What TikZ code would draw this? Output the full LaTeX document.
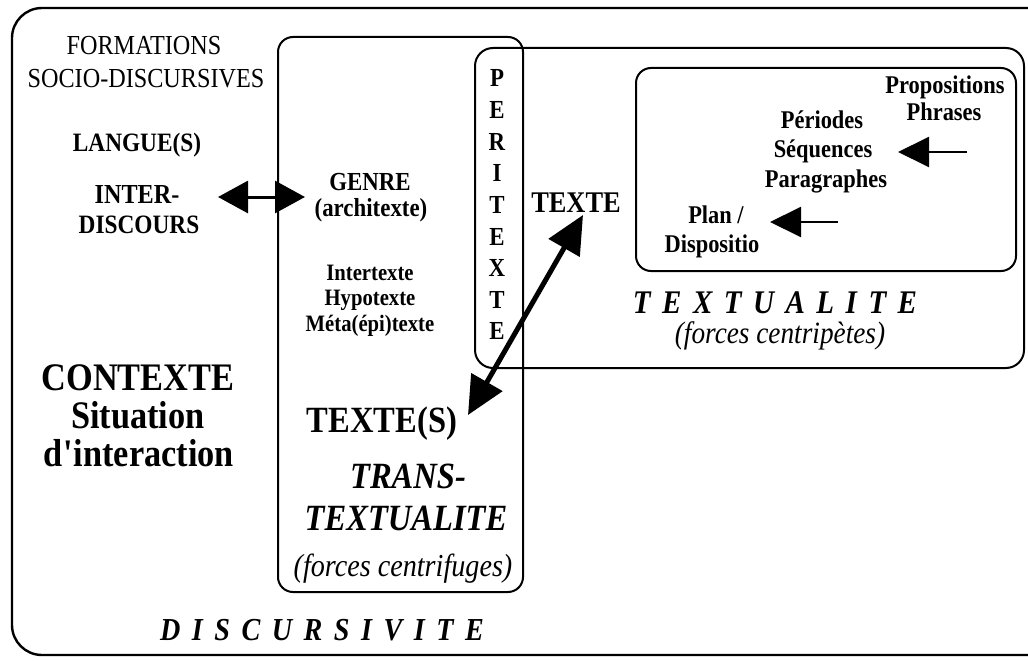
\documentclass[tikz,border=0pt]{standalone}
\usepackage{fontspec}
\setmainfont{Liberation Serif}[FakeStretch=0.88]
\usetikzlibrary{arrows.meta}
\newcommand\fs[1]{\fontsize{#1}{#1}\selectfont}
\newcommand\gp{\kern11.5pt}
\tikzset{
  lbl/.style={inner sep=0pt, anchor=base},
  frm/.style={line width=2pt, rounded corners=#1},
  dblarr/.style={line width=3pt, {Triangle[length=30pt,width=32pt]}-{Triangle[length=30pt,width=32pt]}},
  bigarr/.style={line width=5pt, {Triangle[length=38pt,width=35pt]}-{Triangle[length=38pt,width=35pt]}},
  smallarr/.style={line width=2pt, -{Triangle[length=31pt,width=30pt]}},
}
\begin{document}
\begin{tikzpicture}[x=1pt,y=-1pt]
			%%%%% FRAMES %%%%%
			\useasboundingbox (0,0) rectangle (1028,661);
			\draw[frm=30pt, line width=2.4pt] (12,8) rectangle (1060,655);
			\draw[frm=15pt] (278,37) rectangle (523,592);
			\draw[frm=18pt] (475,48) rectangle (1024,368);
			\draw[frm=15pt] (636,68) rectangle (1016,271);
			
			%%%%% DISCURSIVITE %%%%%
			\node[lbl, font=\fs{27.5}] (formations) at (144,55) {FORMATIONS};
			\node[lbl, font=\fs{27.5}] (sociodisc) at (146,88) {SOCIO-DISCURSIVES};
			\node[lbl, font=\fs{26.5}\bfseries] (langues) at (137,151) {LANGUE(S)};
			\node[lbl, font=\fs{27.5}\bfseries] (inter) at (137,203) {INTER-};
			\node[lbl, font=\fs{26.5}\bfseries] (discours) at (139,233) {DISCOURS};
			\node[lbl, font=\fs{39}\bfseries] (contexte) at (138,390) {CONTEXTE};
			\node[lbl, font=\fs{39}\bfseries] (situation) at (138,428) {Situation};
			\node[lbl, font=\fs{39}\bfseries] (interaction) at (139,466) {d\textquotesingle interaction};
			\node[lbl, font=\fs{32}\bfseries\itshape] (discursivite) at (322,640)
				{D\gp I\gp S\gp C\gp U\gp R\gp S\gp I\gp V\gp I\gp T\gp E};
			
			%%%%% TRANSTEXTUALITE %%%%%
			\node[lbl, font=\fs{26}\bfseries] (genre) at (370,190) {GENRE};
			\node[lbl, font=\fs{26}\bfseries] (architexte) at (371,216) {(architexte)};
			\node[lbl, font=\fs{23.5}\bfseries] (intertexte) at (370,280) {Intertexte};
			\node[lbl, font=\fs{23.5}\bfseries] (hypotexte) at (370,305) {Hypotexte};
			\node[lbl, font=\fs{23.5}\bfseries] (metatexte) at (370,331) {Méta(épi)texte};
			\node[lbl, font=\fs{37}\bfseries] (textes) at (382,432) {TEXTE(S)};
			\node[lbl, font=\fs{37}\bfseries\itshape] (trans) at (408,488) {TRANS-};
			\node[lbl, font=\fs{37}\bfseries\itshape] (transtextualite) at (406,530) {TEXTUALITE};
			\node[lbl, font=\fs{32}\itshape] (centrifuges) at (403,576) {(forces centrifuges)};
			
			%%%%% PERITEXTE %%%%%
			\foreach \l [count=\i from 0] in {P,E,R,I,T,E,X,T,E}
				\node[lbl, font=\fs{26}\bfseries] (peri\i) at (497,87+31.6*\i) {\l};
			
			%%%%% TEXTUALITE %%%%%
			\node[lbl, font=\fs{30}\bfseries] (texte) at (576,212) {TEXTE};
			\node[lbl, font=\fs{25.5}\bfseries] (propositions) at (945,93) {Propositions};
			\node[lbl, font=\fs{25.5}\bfseries] (phrases) at (944,120) {Phrases};
			\node[lbl, font=\fs{25.5}\bfseries] (periodes) at (822,128) {Périodes};
			\node[lbl, font=\fs{25.5}\bfseries] (sequences) at (823,157) {Séquences};
			\node[lbl, font=\fs{25.5}\bfseries] (paragraphes) at (826,187) {Paragraphes};
			\node[lbl, font=\fs{25.5}\bfseries] (plan) at (716,223) {Plan /};
			\node[lbl, font=\fs{25.5}\bfseries] (dispositio) at (712,252) {Dispositio};
			\node[lbl, font=\fs{33}\bfseries\itshape] (textualite) at (775,313)
				{T\gp E\gp X\gp T\gp U\gp A\gp L\gp I\gp T\gp E};
			\node[lbl, font=\fs{31}\itshape] (centripetes) at (780,343) {(forces centripètes)};
			
			%%%%% ARROWS %%%%%
			\coordinate (interR) at (218,197);
			\coordinate (genreL) at (305,197);
			\draw[dblarr] (interR) -- (genreL);
			\coordinate (texteS) at (583,215);
			\coordinate (textesNE) at (468,415);
			\draw[bigarr] (textesNE) -- (texteS);
			\coordinate (phrasesW) at (967,152);
			\coordinate (sequencesE) at (898,152);
			\draw[smallarr] (phrasesW) -- (sequencesE);
			\coordinate (paragraphesW) at (838,222);
			\coordinate (planE) at (770,222);
			\draw[smallarr] (paragraphesW) -- (planE);
\end{tikzpicture}
\end{document}
